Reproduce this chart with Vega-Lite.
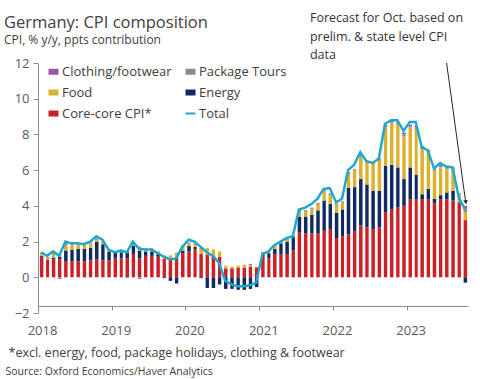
{
  "$schema": "https://vega.github.io/schema/vega-lite/v6.json",
  "width": 430,
  "height": 250,
  "autosize": {"type": "none"},
  "padding": {"left": 38, "top": 63, "right": 12, "bottom": 66},
  "background": "white",
  "config": {
    "font": "Open Sans",
    "view": {"stroke": null},
    "text": {"font": "Open Sans"},
    "axis": {"labelOverlap": false},
    "axisY": {"labelOverlap": false, "tickCount": 8}
  },
  "title": {
    "text": "Germany: CPI composition",
    "subtitle": "CPI, % y/y, ppts contribution",
    "anchor": "start",
    "frame": "group",
    "dx": -34,
    "offset": -34,
    "font": "Open Sans",
    "subtitleFont": "Open Sans",
    "fontSize": 16.5,
    "fontWeight": "normal",
    "color": "#404040",
    "subtitleFontSize": 12,
    "subtitleColor": "#404040",
    "subtitlePadding": 4
  },
  "data": {"values": [
    {"d":"2018-01-01","Core-core CPI*":1.15,"Energy":0.05,"Food":0.15,"Package Tours":0.0,"Clothing/footwear":0.03,"Total":1.4},
    {"d":"2018-02-01","Core-core CPI*":1.0,"Energy":0.0,"Food":0.1,"Package Tours":0.02,"Clothing/footwear":0.02,"Total":1.2},
    {"d":"2018-03-01","Core-core CPI*":1.0,"Energy":0.1,"Food":0.25,"Package Tours":0.03,"Clothing/footwear":0.02,"Total":1.45},
    {"d":"2018-04-01","Core-core CPI*":1.0,"Energy":0.15,"Food":0.1,"Package Tours":-0.1,"Clothing/footwear":0.02,"Total":1.2},
    {"d":"2018-05-01","Core-core CPI*":0.9,"Energy":0.6,"Food":0.3,"Package Tours":0.1,"Clothing/footwear":0.02,"Total":2.0},
    {"d":"2018-06-01","Core-core CPI*":0.9,"Energy":0.65,"Food":0.3,"Package Tours":0.02,"Clothing/footwear":0.02,"Total":1.9},
    {"d":"2018-07-01","Core-core CPI*":0.9,"Energy":0.7,"Food":0.25,"Package Tours":0.0,"Clothing/footwear":0.02,"Total":1.9},
    {"d":"2018-08-01","Core-core CPI*":0.9,"Energy":0.7,"Food":0.2,"Package Tours":0.0,"Clothing/footwear":0.02,"Total":1.85},
    {"d":"2018-09-01","Core-core CPI*":0.95,"Energy":0.7,"Food":0.25,"Package Tours":0.02,"Clothing/footwear":0.02,"Total":2.0},
    {"d":"2018-10-01","Core-core CPI*":1.0,"Energy":1.0,"Food":0.1,"Package Tours":0.05,"Clothing/footwear":0.03,"Total":2.3},
    {"d":"2018-11-01","Core-core CPI*":0.95,"Energy":0.9,"Food":0.1,"Package Tours":0.03,"Clothing/footwear":0.02,"Total":2.1},
    {"d":"2018-12-01","Core-core CPI*":0.95,"Energy":0.5,"Food":0.05,"Package Tours":0.0,"Clothing/footwear":0.02,"Total":1.55},
    {"d":"2019-01-01","Core-core CPI*":1.05,"Energy":0.35,"Food":0.05,"Package Tours":0.0,"Clothing/footwear":0.02,"Total":1.4},
    {"d":"2019-02-01","Core-core CPI*":1.05,"Energy":0.35,"Food":0.1,"Package Tours":0.02,"Clothing/footwear":0.02,"Total":1.5},
    {"d":"2019-03-01","Core-core CPI*":1.05,"Energy":0.35,"Food":0.05,"Package Tours":-0.05,"Clothing/footwear":0.02,"Total":1.4},
    {"d":"2019-04-01","Core-core CPI*":1.3,"Energy":0.45,"Food":0.05,"Package Tours":0.2,"Clothing/footwear":0.02,"Total":2.0},
    {"d":"2019-05-01","Core-core CPI*":1.05,"Energy":0.45,"Food":0.2,"Package Tours":-0.1,"Clothing/footwear":0.02,"Total":1.6},
    {"d":"2019-06-01","Core-core CPI*":1.2,"Energy":0.25,"Food":0.1,"Package Tours":0.05,"Clothing/footwear":0.02,"Total":1.55},
    {"d":"2019-07-01","Core-core CPI*":1.2,"Energy":0.25,"Food":0.15,"Package Tours":0.02,"Clothing/footwear":0.0,"Total":1.55},
    {"d":"2019-08-01","Core-core CPI*":1.15,"Energy":0.15,"Food":0.15,"Package Tours":0.0,"Clothing/footwear":0.0,"Total":1.35},
    {"d":"2019-09-01","Core-core CPI*":1.05,"Energy":-0.05,"Food":0.15,"Package Tours":0.02,"Clothing/footwear":0.0,"Total":1.15},
    {"d":"2019-10-01","Core-core CPI*":1.05,"Energy":-0.2,"Food":0.15,"Package Tours":0.02,"Clothing/footwear":0.0,"Total":1.0},
    {"d":"2019-11-01","Core-core CPI*":1.15,"Energy":-0.35,"Food":0.15,"Package Tours":0.05,"Clothing/footwear":0.02,"Total":1.05},
    {"d":"2019-12-01","Core-core CPI*":1.35,"Energy":0.15,"Food":0.2,"Package Tours":0.05,"Clothing/footwear":0.02,"Total":1.7},
    {"d":"2020-01-01","Core-core CPI*":1.45,"Energy":0.3,"Food":0.15,"Package Tours":0.03,"Clothing/footwear":0.02,"Total":2.1},
    {"d":"2020-02-01","Core-core CPI*":1.55,"Energy":0.15,"Food":0.2,"Package Tours":0.03,"Clothing/footwear":0.02,"Total":2.0},
    {"d":"2020-03-01","Core-core CPI*":1.3,"Energy":-0.05,"Food":0.3,"Package Tours":0.02,"Clothing/footwear":0.02,"Total":1.7},
    {"d":"2020-04-01","Core-core CPI*":1.25,"Energy":-0.6,"Food":0.4,"Package Tours":0.0,"Clothing/footwear":0.0,"Total":1.4},
    {"d":"2020-05-01","Core-core CPI*":1.2,"Energy":-0.6,"Food":0.35,"Package Tours":0.0,"Clothing/footwear":0.0,"Total":1.2},
    {"d":"2020-06-01","Core-core CPI*":1.15,"Energy":-0.4,"Food":0.3,"Package Tours":0.0,"Clothing/footwear":0.0,"Total":0.8},
    {"d":"2020-07-01","Core-core CPI*":0.5,"Energy":-0.65,"Food":0.15,"Package Tours":0.0,"Clothing/footwear":0.0,"Total":-0.2},
    {"d":"2020-08-01","Core-core CPI*":0.5,"Energy":-0.65,"Food":0.1,"Package Tours":0.0,"Clothing/footwear":0.0,"Total":-0.4},
    {"d":"2020-09-01","Core-core CPI*":0.55,"Energy":-0.7,"Food":0.1,"Package Tours":0.0,"Clothing/footwear":0.0,"Total":-0.5},
    {"d":"2020-10-01","Core-core CPI*":0.55,"Energy":-0.7,"Food":0.15,"Package Tours":0.0,"Clothing/footwear":0.0,"Total":-0.5},
    {"d":"2020-11-01","Core-core CPI*":0.6,"Energy":-0.65,"Food":0.05,"Package Tours":0.1,"Clothing/footwear":0.0,"Total":-0.45},
    {"d":"2020-12-01","Core-core CPI*":0.55,"Energy":-0.55,"Food":0.05,"Package Tours":0.0,"Clothing/footwear":0.0,"Total":-0.3},
    {"d":"2021-01-01","Core-core CPI*":1.2,"Energy":0.1,"Food":0.1,"Package Tours":0.0,"Clothing/footwear":0.02,"Total":1.3},
    {"d":"2021-02-01","Core-core CPI*":1.05,"Energy":0.3,"Food":0.1,"Package Tours":0.0,"Clothing/footwear":0.02,"Total":1.45},
    {"d":"2021-03-01","Core-core CPI*":1.3,"Energy":0.3,"Food":0.15,"Package Tours":0.05,"Clothing/footwear":0.02,"Total":1.8},
    {"d":"2021-04-01","Core-core CPI*":1.3,"Energy":0.6,"Food":0.1,"Package Tours":0.0,"Clothing/footwear":0.02,"Total":2.0},
    {"d":"2021-05-01","Core-core CPI*":1.3,"Energy":0.7,"Food":0.1,"Package Tours":0.05,"Clothing/footwear":0.02,"Total":2.2},
    {"d":"2021-06-01","Core-core CPI*":1.5,"Energy":0.75,"Food":0.1,"Package Tours":0.0,"Clothing/footwear":0.02,"Total":2.3},
    {"d":"2021-07-01","Core-core CPI*":2.5,"Energy":0.9,"Food":0.25,"Package Tours":0.1,"Clothing/footwear":0.05,"Total":3.8},
    {"d":"2021-08-01","Core-core CPI*":2.45,"Energy":0.95,"Food":0.3,"Package Tours":0.0,"Clothing/footwear":0.05,"Total":3.9},
    {"d":"2021-09-01","Core-core CPI*":2.45,"Energy":1.05,"Food":0.3,"Package Tours":0.05,"Clothing/footwear":0.05,"Total":4.1},
    {"d":"2021-10-01","Core-core CPI*":2.45,"Energy":1.3,"Food":0.35,"Package Tours":0.0,"Clothing/footwear":0.05,"Total":4.4},
    {"d":"2021-11-01","Core-core CPI*":2.6,"Energy":1.7,"Food":0.55,"Package Tours":0.0,"Clothing/footwear":0.05,"Total":4.95},
    {"d":"2021-12-01","Core-core CPI*":2.7,"Energy":1.4,"Food":0.5,"Package Tours":0.05,"Clothing/footwear":0.05,"Total":5.0},
    {"d":"2022-01-01","Core-core CPI*":2.2,"Energy":1.4,"Food":0.45,"Package Tours":0.03,"Clothing/footwear":0.05,"Total":4.2},
    {"d":"2022-02-01","Core-core CPI*":2.3,"Energy":1.5,"Food":0.4,"Package Tours":0.0,"Clothing/footwear":0.05,"Total":4.4},
    {"d":"2022-03-01","Core-core CPI*":2.4,"Energy":2.6,"Food":0.8,"Package Tours":0.05,"Clothing/footwear":0.05,"Total":6.0},
    {"d":"2022-04-01","Core-core CPI*":2.6,"Energy":2.45,"Food":0.95,"Package Tours":0.0,"Clothing/footwear":0.05,"Total":6.3},
    {"d":"2022-05-01","Core-core CPI*":2.9,"Energy":2.6,"Food":1.25,"Package Tours":0.05,"Clothing/footwear":0.05,"Total":7.0},
    {"d":"2022-06-01","Core-core CPI*":2.8,"Energy":2.4,"Food":1.3,"Package Tours":0.0,"Clothing/footwear":0.03,"Total":6.5},
    {"d":"2022-07-01","Core-core CPI*":2.7,"Energy":2.15,"Food":1.55,"Package Tours":0.0,"Clothing/footwear":0.03,"Total":6.4},
    {"d":"2022-08-01","Core-core CPI*":2.8,"Energy":2.05,"Food":1.75,"Package Tours":0.0,"Clothing/footwear":0.05,"Total":6.65},
    {"d":"2022-09-01","Core-core CPI*":3.65,"Energy":2.6,"Food":2.15,"Package Tours":0.05,"Clothing/footwear":0.1,"Total":8.6},
    {"d":"2022-10-01","Core-core CPI*":3.8,"Energy":2.5,"Food":2.35,"Package Tours":0.03,"Clothing/footwear":0.1,"Total":8.8},
    {"d":"2022-11-01","Core-core CPI*":3.9,"Energy":2.25,"Food":2.45,"Package Tours":0.0,"Clothing/footwear":0.1,"Total":8.8},
    {"d":"2022-12-01","Core-core CPI*":4.0,"Energy":1.5,"Food":2.4,"Package Tours":0.1,"Clothing/footwear":0.1,"Total":8.2},
    {"d":"2023-01-01","Core-core CPI*":4.35,"Energy":1.8,"Food":2.25,"Package Tours":0.05,"Clothing/footwear":0.1,"Total":8.7},
    {"d":"2023-02-01","Core-core CPI*":4.35,"Energy":1.4,"Food":2.55,"Package Tours":0.1,"Clothing/footwear":0.1,"Total":8.7},
    {"d":"2023-03-01","Core-core CPI*":4.35,"Energy":0.3,"Food":2.5,"Package Tours":0.1,"Clothing/footwear":0.1,"Total":7.3},
    {"d":"2023-04-01","Core-core CPI*":4.35,"Energy":0.6,"Food":2.15,"Package Tours":0.0,"Clothing/footwear":0.05,"Total":7.1},
    {"d":"2023-05-01","Core-core CPI*":4.15,"Energy":0.25,"Food":1.6,"Package Tours":0.0,"Clothing/footwear":0.05,"Total":6.1},
    {"d":"2023-06-01","Core-core CPI*":4.35,"Energy":0.25,"Food":1.55,"Package Tours":0.05,"Clothing/footwear":0.1,"Total":6.4},
    {"d":"2023-07-01","Core-core CPI*":4.35,"Energy":0.4,"Food":1.3,"Package Tours":0.05,"Clothing/footwear":0.05,"Total":6.2},
    {"d":"2023-08-01","Core-core CPI*":4.3,"Energy":0.55,"Food":1.25,"Package Tours":0.0,"Clothing/footwear":0.05,"Total":6.15},
    {"d":"2023-09-01","Core-core CPI*":4.15,"Energy":0.05,"Food":0.45,"Package Tours":0.0,"Clothing/footwear":0.05,"Total":4.5},
    {"d":"2023-10-01","Core-core CPI*":3.2,"Energy":-0.3,"Food":0.45,"Package Tours":0.2,"Clothing/footwear":0.15,"Total":3.8}
  ]},
  "layer": [
    {
      "transform": [
        {"fold": ["Core-core CPI*", "Energy", "Food", "Package Tours", "Clothing/footwear"], "as": ["series", "v"]},
        {"calculate": "indexof(['Core-core CPI*','Energy','Food','Package Tours','Clothing/footwear'], datum.series)", "as": "ord"}
      ],
      "mark": {"type": "bar", "width": {"band": 0.72}},
      "encoding": {
        "x": {
          "field": "d", "timeUnit": "utcyearmonth", "type": "temporal",
          "scale": {"domain": [{"year": 2018, "month": 1, "date": 1, "utc": true}, {"year": 2023, "month": 11, "date": 1, "utc": true}]},
          "axis": {
            "title": "*excl. energy, food, package holidays, clothing & footwear",
            "titleX": -30, "titleY": 46, "titleAlign": "left", "titleBaseline": "middle", "titleAnchor": null,
            "titleFont": "Open Sans", "titleFontSize": 12.5, "titleFontWeight": "normal", "titleColor": "#404040",
            "values": [
              {"year": 2018, "month": 1, "date": 1, "utc": true},
              {"year": 2019, "month": 1, "date": 1, "utc": true},
              {"year": 2020, "month": 1, "date": 1, "utc": true},
              {"year": 2021, "month": 1, "date": 1, "utc": true},
              {"year": 2022, "month": 1, "date": 1, "utc": true},
              {"year": 2023, "month": 1, "date": 1, "utc": true}
            ],
            "format": "%Y", "offset": -7, "grid": false,
            "domainColor": "#8c8c8c", "tickColor": "#8c8c8c", "tickSize": 4,
            "labelFont": "Open Sans", "labelFontSize": 13, "labelColor": "#595959", "labelPadding": 14, "labelOffset": 4, "labelFlush": false, "labelOverlap": false
          }
        },
        "y": {
          "field": "v", "type": "quantitative", "stack": "zero",
          "scale": {"domain": [-2, 12], "nice": false},
          "axis": {
            "title": "Source: Oxford Economics/Haver Analytics",
            "titleAngle": 0, "titleX": -33, "titleY": 308, "titleAlign": "left", "titleBaseline": "middle",
            "titleFont": "Open Sans", "titleFontSize": 10.5, "titleFontWeight": "normal", "titleColor": "#404040",
            "values": [-2, 0, 2, 4, 6, 8, 10, 12], "tickCount": 8, "grid": false, "labelOverlap": false, "labelSeparation": -40,
            "domainColor": "#8c8c8c", "tickColor": "#8c8c8c", "tickSize": 5,
            "labelFont": "Open Sans", "labelFontSize": 13, "labelColor": "#595959", "labelPadding": 4
          }
        },
        "color": {
          "field": "series", "type": "nominal",
          "scale": {
            "domain": ["Clothing/footwear", "Package Tours", "Food", "Energy", "Core-core CPI*", "Total"],
            "range": ["#9C55A8", "#8C8C8C", "#DDB030", "#112A60", "#CC1F26", "#1FA8CC"]
          },
          "legend": {
            "title": null, "orient": "none", "legendX": 9, "legendY": 2, "direction": "horizontal", "columns": 2, "columnPadding": 9, "rowPadding": 7,
            "padding": 0, "labelFont": "Open Sans", "labelFontSize": 13, "labelColor": "#404040", "labelOffset": 2,
            "symbolType": "M-1,-0.6H1V0.6H-1Z", "symbolSize": 100, "symbolStrokeWidth": 0,
            "encode": {
              "symbols": {
                "update": {
                  "shape": {"signal": "datum.value === 'Total' ? 'stroke' : 'M-1,-0.6H1V0.6H-1Z'"},
                  "stroke": {"signal": "datum.value === 'Total' ? scale('color', datum.value) : 'transparent'"},
                  "strokeWidth": {"signal": "datum.value === 'Total' ? 2 : 0"}
                }
              }
            }
          }
        },
        "order": {"field": "ord", "type": "quantitative"}
      }
    },
    {
      "mark": {"type": "line", "strokeWidth": 2.5},
      "encoding": {
        "x": {"field": "d", "timeUnit": "utcyearmonth", "type": "temporal", "bandPosition": 0.5},
        "y": {"field": "Total", "type": "quantitative", "axis": {"values": [-2, 0, 2, 4, 6, 8, 10, 12], "labelOverlap": false}},
        "color": {"datum": "Total"}
      }
    },
    {
      "data": {"values": [{"note": "Forecast"}]},
      "mark": {"type": "text", "text": ["Forecast for Oct. based on", "prelim. & state level CPI", "data"], "align": "left", "baseline": "middle", "font": "Open Sans", "fontWeight": "normal", "fontSize": 12.5, "lineHeight": 18.5, "color": "#333333"},
      "encoding": {
        "x": {"datum": {"year": 2021, "month": 9, "date": 9, "utc": true}, "type": "temporal"},
        "y": {"datum": 14.52, "type": "quantitative"}
      }
    },
    {
      "data": {"values": [{"note": "arrow"}]},
      "mark": {"type": "rule", "color": "#262626", "strokeWidth": 1},
      "encoding": {
        "x": {"datum": {"year": 2023, "month": 7, "date": 18, "utc": true}, "type": "temporal"},
        "x2": {"datum": {"year": 2023, "month": 10, "date": 20, "utc": true}},
        "y": {"datum": 12, "type": "quantitative"},
        "y2": {"datum": 4.25}
      }
    },
    {
      "data": {"values": [{"note": "arrowhead"}]},
      "mark": {"type": "point", "shape": "triangle-down", "filled": true, "color": "#262626", "size": 22, "angle": -8, "opacity": 1},
      "encoding": {
        "x": {"datum": {"year": 2023, "month": 10, "date": 21, "utc": true}, "type": "temporal"},
        "y": {"datum": 4.2, "type": "quantitative"}
      }
    }
  ]
}
